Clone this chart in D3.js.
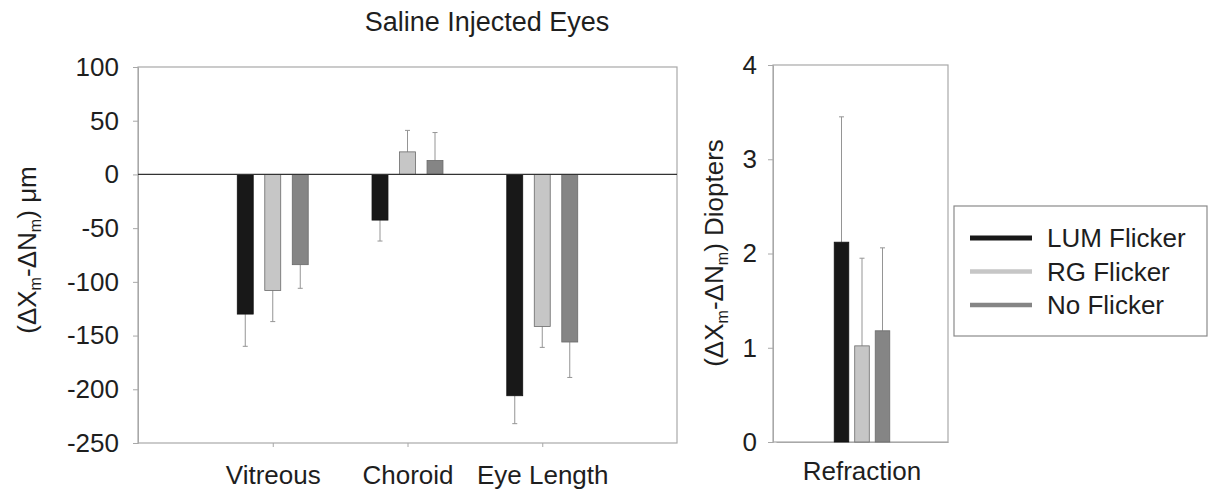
<!DOCTYPE html>
<html>
<head>
<meta charset="utf-8">
<script src="https://cdn.jsdelivr.net/npm/d3@7"></script>
<style>
  html, body { margin: 0; padding: 0; background: #fff; }
  svg { display: block; font-family: "Liberation Sans", Arial, sans-serif; }
</style>
</head>
<body>
<svg id="chart" width="1212" height="489"></svg>
<script>
// ---- data ----
const categories = ["Vitreous", "Choroid", "Eye Length"];
const series = ["LUM Flicker", "RG Flicker", "No Flicker"];
const seriesColors = ["#181818", "#c6c6c6", "#858585"];
// left panel values (µm) per series, by category
const lumValues = [-130, -42.5, -206];
const rgValues = [-108, 21, -141.5];
const noValues = [-84, 13, -156];
// error bar extents (end points of the bars)
const lumErrEnd = [-160, -62, -232];
const rgErrEnd = [-137, 41, -161];
const noErrEnd = [-106, 39, -189];
const leftTicks = [100, 50, 0, -50, -100, -150, -200, -250];

// right panel (Diopters)
const refractionCategory = ["Refraction"];
const refractionValues = [2.12, 1.02, 1.18];
const refractionErrEnd = [3.45, 1.95, 2.06];
const rightTicks = [0, 1, 2, 3, 4];

const svg = d3.select("#chart");
const FS = 26;
const frameColor = "#a8a8a8";
const textColor = "#1e1e1e";

// ---------- Left panel ----------
const L = { x0: 138, x1: 677, y0: 67, y1: 443 };
const yL = d3.scaleLinear().domain([-250, 100]).range([L.y1, L.y0]);
const xL = d3.scaleLinear().domain([0, 4]).range([L.x0, L.x1]);
const sub = d3.scaleBand().domain(series).range([-41.25, 41.25]).paddingInner(0.42).paddingOuter(0.21);

const left = svg.append("g");
left.append("rect").attr("x", L.x0).attr("y", L.y0).attr("width", L.x1 - L.x0).attr("height", L.y1 - L.y0)
  .attr("fill", "none").attr("stroke", frameColor).attr("stroke-width", 1.2);

const yAxisL = left.append("g").attr("transform", `translate(${L.x0},0)`)
  .call(d3.axisLeft(yL).tickValues(leftTicks).tickSize(5).tickPadding(14).tickFormat(d3.format("d")));
yAxisL.select(".domain").attr("stroke", frameColor);
yAxisL.selectAll(".tick line").attr("stroke", frameColor);
yAxisL.selectAll("text").attr("font-size", FS).attr("fill", textColor).attr("font-family", "Liberation Sans, Arial, sans-serif")
  .text(d => d < 0 ? "-" + Math.abs(d) : d);

const xAxisL = left.append("g").attr("transform", `translate(0,${L.y1})`)
  .call(d3.axisBottom(xL).tickValues([1, 2, 3]).tickSize(4).tickPadding(19).tickFormat(i => categories[i - 1]));
xAxisL.select(".domain").remove();
xAxisL.selectAll(".tick line").attr("stroke", frameColor);
xAxisL.selectAll("text").attr("font-size", FS).attr("fill", textColor).attr("font-family", "Liberation Sans, Arial, sans-serif");

const leftData = [];
const vals = [lumValues, rgValues, noValues];
const errs = [lumErrEnd, rgErrEnd, noErrEnd];
categories.forEach((c, ci) => {
  series.forEach((s, si) => {
    leftData.push({ c, ci, s, si, v: vals[si][ci], e: errs[si][ci] });
  });
});

const errColor = "#959595";
leftData.forEach(d => {
  const cx = xL(d.ci + 1) + sub(d.s) + sub.bandwidth() / 2;
  left.append("line").attr("x1", cx).attr("x2", cx).attr("y1", yL(d.v)).attr("y2", yL(d.e))
    .attr("stroke", errColor).attr("stroke-width", 1);
  left.append("line").attr("x1", cx - 2.5).attr("x2", cx + 2.5).attr("y1", yL(d.e)).attr("y2", yL(d.e))
    .attr("stroke", errColor).attr("stroke-width", 1);
});
left.selectAll("rect.bar").data(leftData).join("rect").attr("class", "bar")
  .attr("x", d => xL(d.ci + 1) + sub(d.s))
  .attr("width", sub.bandwidth())
  .attr("y", d => Math.min(yL(d.v), yL(0)))
  .attr("height", d => Math.abs(yL(d.v) - yL(0)))
  .attr("fill", d => seriesColors[d.si])
  .attr("stroke", d => d.si === 0 ? "#111" : "#6a6a6a")
  .attr("stroke-width", 0.8);

left.append("line").attr("x1", L.x0).attr("x2", L.x1).attr("y1", yL(0)).attr("y2", yL(0))
  .attr("stroke", "#333").attr("stroke-width", 1.2);

function yTitle(g, x, y, suffix) {
  const t = g.append("text").attr("transform", `translate(${x},${y}) rotate(-90)`)
    .attr("text-anchor", "middle").attr("font-size", FS).attr("fill", textColor);
  t.append("tspan").text("(ΔX");
  t.append("tspan").attr("font-size", FS * 0.62).attr("dy", 5).text("m");
  t.append("tspan").attr("dy", -5).text("-ΔN");
  t.append("tspan").attr("font-size", FS * 0.62).attr("dy", 5).text("m");
  t.append("tspan").attr("dy", -5).text(") " + suffix);
}
yTitle(left, 36, 250, "μm");

svg.append("text").attr("x", 487).attr("y", 31).attr("text-anchor", "middle")
  .attr("font-size", 27).attr("fill", textColor).text("Saline Injected Eyes");

// ---------- Right panel ----------
const R = { x0: 773, x1: 948, y0: 65, y1: 442 };
const yR = d3.scaleLinear().domain([0, 4]).range([R.y1, R.y0]);
const xR = d3.scaleBand().domain(refractionCategory).range([R.x0 + 3, R.x1]);
const subR = d3.scaleBand().domain(series).range([-30.75, 30.75]).paddingInner(0.29).paddingOuter(0.145);

const right = svg.append("g");
right.append("rect").attr("x", R.x0).attr("y", R.y0).attr("width", R.x1 - R.x0).attr("height", R.y1 - R.y0)
  .attr("fill", "none").attr("stroke", frameColor).attr("stroke-width", 1.2);

const yAxisR = right.append("g").attr("transform", `translate(${R.x0},0)`)
  .call(d3.axisLeft(yR).tickValues(rightTicks).tickSize(5).tickPadding(11).tickFormat(d3.format("d")));
yAxisR.select(".domain").attr("stroke", frameColor);
yAxisR.selectAll(".tick line").attr("stroke", frameColor);
yAxisR.selectAll("text").attr("font-size", FS).attr("fill", textColor).attr("font-family", "Liberation Sans, Arial, sans-serif");

const xAxisR = right.append("g").attr("transform", `translate(0,${R.y1})`)
  .call(d3.axisBottom(xR).tickSize(0).tickPadding(20));
xAxisR.select(".domain").attr("stroke", frameColor);
xAxisR.selectAll("text").attr("font-size", FS).attr("fill", textColor).attr("font-family", "Liberation Sans, Arial, sans-serif");

const rightData = series.map((s, si) => ({ s, si, v: refractionValues[si], e: refractionErrEnd[si] }));
const rc = xR("Refraction") + xR.bandwidth() / 2;
rightData.forEach(d => {
  const cx = rc + subR(d.s) + subR.bandwidth() / 2;
  right.append("line").attr("x1", cx).attr("x2", cx).attr("y1", yR(d.v)).attr("y2", yR(d.e))
    .attr("stroke", errColor).attr("stroke-width", 1);
  right.append("line").attr("x1", cx - 2.5).attr("x2", cx + 2.5).attr("y1", yR(d.e)).attr("y2", yR(d.e))
    .attr("stroke", errColor).attr("stroke-width", 1);
});
right.selectAll("rect.bar").data(rightData).join("rect").attr("class", "bar")
  .attr("x", d => rc + subR(d.s))
  .attr("width", subR.bandwidth())
  .attr("y", d => yR(d.v))
  .attr("height", d => yR(0) - yR(d.v))
  .attr("fill", d => seriesColors[d.si])
  .attr("stroke", d => d.si === 0 ? "#111" : "#6a6a6a")
  .attr("stroke-width", 0.8);

yTitle(right, 723, 253, "Diopters");

// ---------- Legend ----------
const lg = svg.append("g");
lg.append("rect").attr("x", 954).attr("y", 206).attr("width", 253).attr("height", 130)
  .attr("fill", "#fff").attr("stroke", "#8a8a8a").attr("stroke-width", 1.2);
series.forEach((s, i) => {
  const y = 238 + i * 33.5;
  lg.append("line").attr("x1", 970).attr("x2", 1032).attr("y1", y).attr("y2", y)
    .attr("stroke", seriesColors[i]).attr("stroke-width", i === 0 ? 5 : 4.5);
  lg.append("text").attr("x", 1047).attr("y", y).attr("dy", "0.36em")
    .attr("font-size", FS).attr("fill", textColor).text(s);
});
</script>
</body>
</html>
